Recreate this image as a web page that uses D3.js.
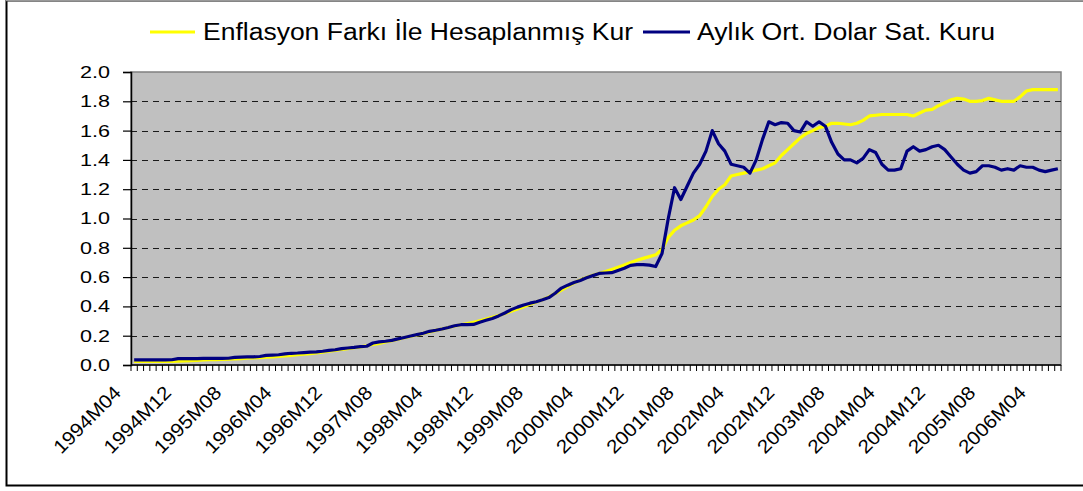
<!DOCTYPE html>
<html>
<head>
<meta charset="utf-8">
<script src="https://cdn.jsdelivr.net/npm/d3@7"></script>
<style>
  html, body { margin: 0; padding: 0; background: #fff; }
  svg { display: block; font-family: "Liberation Sans", Arial, sans-serif; }
</style>
</head>
<body>
<svg id="chart" width="1083" height="491"></svg>
<script>
// ---- data ----
const startYear = 1994, startMonth = 4, monthCount = 148; // 1994M04 .. 2006M07
const seriesNames = ["Enflasyon Farkı İle Hesaplanmış Kur", "Aylık Ort. Dolar Sat. Kuru"];
const tickLabels = ["1994M04","1994M12","1995M08","1996M04","1996M12","1997M08","1998M04","1998M12","1999M08","2000M04","2000M12","2001M08","2002M04","2002M12","2003M08","2004M04","2004M12","2005M08","2006M04"];
const yTicks = [0, 0.2, 0.4, 0.6, 0.8, 1.0, 1.2, 1.4, 1.6, 1.8, 2.0];

const enflasyonKur = [
  0.024,0.024,0.024,0.024,0.024,0.024,0.024,0.026,0.028,0.030,
  0.032,0.034,0.036,0.037,0.038,0.040,0.042,0.044,0.046,0.048,
  0.050,0.053,0.056,0.059,0.062,0.066,0.070,0.074,0.078,0.083,
  0.088,0.094,0.100,0.106,0.112,0.118,0.124,0.131,0.140,0.148,
  0.157,0.166,0.176,0.186,0.196,0.206,0.216,0.226,0.236,0.246,
  0.256,0.266,0.275,0.283,0.292,0.302,0.313,0.325,0.338,0.352,
  0.367,0.382,0.398,0.414,0.430,0.446,0.465,0.488,0.512,0.537,
  0.560,0.580,0.597,0.612,0.625,0.638,0.652,0.667,0.683,0.700,
  0.715,0.728,0.740,0.752,0.790,0.870,0.920,0.950,0.970,0.990,
  1.020,1.080,1.150,1.200,1.230,1.290,1.300,1.310,1.320,1.330,
  1.340,1.360,1.380,1.430,1.470,1.510,1.550,1.580,1.600,1.620,
  1.630,1.650,1.650,1.645,1.640,1.650,1.670,1.700,1.705,1.710,
  1.710,1.710,1.710,1.710,1.700,1.720,1.740,1.745,1.770,1.790,
  1.810,1.820,1.815,1.800,1.800,1.805,1.820,1.810,1.800,1.800,
  1.800,1.830,1.870,1.880,1.880,1.880,1.880,1.880
];

const dolarKur = [
  0.035,0.035,0.035,0.035,0.035,0.035,0.036,0.043,0.044,0.044,
  0.044,0.045,0.045,0.045,0.045,0.046,0.052,0.054,0.055,0.056,
  0.058,0.066,0.068,0.070,0.076,0.080,0.082,0.085,0.088,0.090,
  0.094,0.100,0.104,0.112,0.116,0.120,0.125,0.128,0.150,0.158,
  0.162,0.168,0.178,0.188,0.198,0.207,0.217,0.230,0.237,0.246,
  0.256,0.268,0.275,0.275,0.277,0.292,0.305,0.318,0.335,0.355,
  0.378,0.395,0.410,0.422,0.432,0.445,0.460,0.490,0.525,0.545,
  0.563,0.577,0.595,0.610,0.625,0.628,0.630,0.645,0.660,0.680,
  0.685,0.685,0.682,0.672,0.760,1.000,1.210,1.130,1.220,1.310,
  1.370,1.460,1.600,1.510,1.460,1.370,1.360,1.350,1.310,1.400,
  1.540,1.660,1.640,1.655,1.650,1.600,1.590,1.660,1.630,1.660,
  1.630,1.520,1.440,1.400,1.400,1.380,1.410,1.470,1.450,1.370,
  1.330,1.330,1.340,1.460,1.490,1.460,1.470,1.490,1.500,1.470,
  1.420,1.370,1.330,1.310,1.320,1.360,1.360,1.350,1.330,1.340,
  1.330,1.360,1.350,1.350,1.330,1.320,1.330,1.340
];

// category labels (months)
const categories = [];
for (let k = 0; k < monthCount; k++) {
  const m = startMonth - 1 + k;
  const yr = startYear + Math.floor(m / 12);
  const mo = (m % 12) + 1;
  categories.push(yr + "M" + String(mo).padStart(2, "0"));
}

// ---- layout ----
const plot = { left: 131, top: 72, right: 1061, bottom: 365 };

const svg = d3.select("#chart");

// outer frame
svg.append("rect")
  .attr("x", 6.5).attr("y", 0.5)
  .attr("width", 1100).attr("height", 485)
  .attr("fill", "#fff").attr("stroke", "#000").attr("stroke-width", 2);
svg.append("line").attr("x1", 6).attr("x2", 1083).attr("y1", 0.5).attr("y2", 0.5)
  .attr("stroke", "#999").attr("stroke-width", 1.5);

const x = d3.scaleBand().domain(categories).range([plot.left, plot.right]).paddingInner(0).paddingOuter(0);
const y = d3.scaleLinear().domain([0, 2]).range([plot.bottom, plot.top]);
const cx = c => x(c) + x.bandwidth() / 2;

// plot background
svg.append("rect")
  .attr("x", plot.left).attr("y", plot.top)
  .attr("width", plot.right - plot.left).attr("height", plot.bottom - plot.top)
  .attr("fill", "#C0C0C0").attr("stroke", "#808080").attr("stroke-width", 1.5);

// gridlines
svg.append("g").selectAll("line")
  .data(yTicks.filter(v => v > 0 && v < 2))
  .join("line")
  .attr("x1", plot.left).attr("x2", plot.right)
  .attr("y1", d => Math.round(y(d)) + 0.5).attr("y2", d => Math.round(y(d)) + 0.5)
  .attr("stroke", "#1a1a1a").attr("stroke-width", 1.2)
  .attr("stroke-dasharray", "6,5");

// y axis
const yAxis = d3.axisLeft(y).tickValues(yTicks).tickSize(8).tickFormat(d3.format(".1f"));
const gy = svg.append("g").attr("transform", `translate(${plot.left},0)`).call(yAxis);
gy.select(".domain").attr("stroke", "#000").attr("stroke-width", 1.5);
gy.selectAll(".tick line").attr("stroke", "#000").attr("stroke-width", 1.2);
gy.selectAll(".tick text")
  .attr("x", -21)
  .attr("font-size", 17)
  .attr("fill", "#000")
  .attr("textLength", 30).attr("lengthAdjust", "spacingAndGlyphs")
  .attr("font-family", "Liberation Sans, Arial, sans-serif");

// x axis: ticks between categories
const boundaries = categories.map(c => x(c)).concat([plot.right]);
svg.append("g").selectAll("line")
  .data(boundaries)
  .join("line")
  .attr("x1", d => d).attr("x2", d => d)
  .attr("y1", plot.bottom).attr("y2", plot.bottom + 6)
  .attr("stroke", "#000").attr("stroke-width", 1);
svg.append("line")
  .attr("x1", plot.left).attr("x2", plot.right)
  .attr("y1", plot.bottom).attr("y2", plot.bottom)
  .attr("stroke", "#000").attr("stroke-width", 1.5);

// x labels
svg.append("g").selectAll("text")
  .data(tickLabels)
  .join("text")
  .attr("transform", d => `translate(${cx(d) - 12},${plot.bottom + 29}) rotate(-45)`)
  .attr("text-anchor", "end")
  .attr("font-size", 19)
  .attr("textLength", 86).attr("lengthAdjust", "spacingAndGlyphs")
  .attr("fill", "#000")
  .text(d => d);

// lines
const line = d3.line().x((d, i) => cx(categories[i])).y(d => y(d));
svg.append("path").datum(enflasyonKur)
  .attr("d", line).attr("fill", "none")
  .attr("stroke", "#FFFF00").attr("stroke-width", 3.2).attr("stroke-linejoin", "round");
svg.append("path").datum(dolarKur)
  .attr("d", line).attr("fill", "none")
  .attr("stroke", "#000080").attr("stroke-width", 3.2).attr("stroke-linejoin", "round");

// legend
const legendItems = [
  { name: seriesNames[0], color: "#FFFF00", x1: 150, x2: 195, tx: 203, len: 430 },
  { name: seriesNames[1], color: "#000080", x1: 643, x2: 690, tx: 697, len: 298 }
];
const lg = svg.append("g");
legendItems.forEach(it => {
  lg.append("line").attr("x1", it.x1).attr("x2", it.x2).attr("y1", 32).attr("y2", 32)
    .attr("stroke", it.color).attr("stroke-width", 3);
  lg.append("text").attr("x", it.tx).attr("y", 40)
    .attr("font-size", 23).attr("fill", "#000")
    .attr("textLength", it.len).attr("lengthAdjust", "spacingAndGlyphs")
    .text(it.name);
});
</script>
</body>
</html>
